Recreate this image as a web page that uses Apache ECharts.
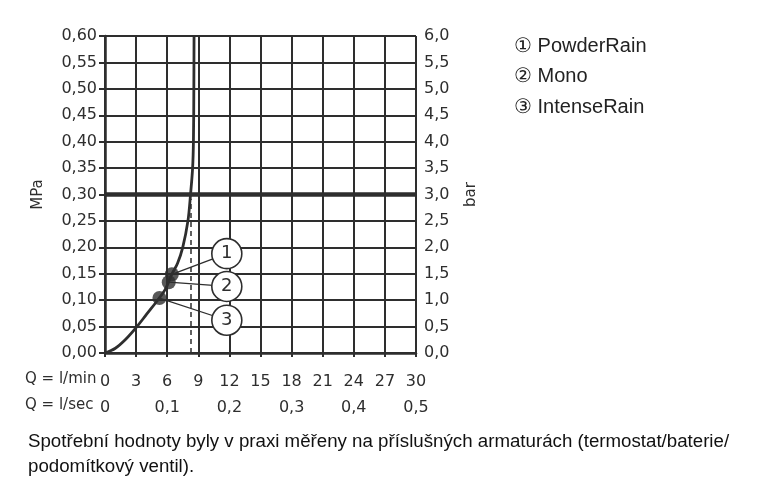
<!DOCTYPE html>
<html>
<head>
<meta charset="utf-8">
<script src="https://cdn.jsdelivr.net/npm/echarts@6/dist/echarts.min.js"></script>
<style>
  html, body { margin: 0; padding: 0; background: #fff; }
  #chart { width: 777px; height: 495px; }
</style>
</head>
<body>
<div id="chart"></div>
<script>
// průtoková křivka (Q v l/min, tlak v MPa)
const curveQ = [0, 1, 2, 3, 4, 5, 5.8, 6.45, 7, 7.5, 8.0, 8.25, 8.45, 8.53, 8.57, 8.59]
const curveP = [0, 0.009, 0.026, 0.048, 0.073, 0.098, 0.12, 0.149, 0.17, 0.2, 0.25, 0.3, 0.35, 0.4, 0.5, 0.6]
// body jednotlivých proudů: PowderRain, Mono, IntenseRain
const pointQ = [6.45, 6.15, 5.25]
const pointP = [0.149, 0.134, 0.104]
// kroužky s čísly
const badgeText = ['1', '2', '3']
const badgeQ = [11.75, 11.75, 11.75]
const badgeP = [0.188, 0.126, 0.062]
const legendText = ['① PowderRain', '② Mono', '③ IntenseRain']
const refPressure = 0.3
const limitQ = 8.23

const ink = '#2e2e2e'
const axisFont = 'DejaVu Sans'
const comma = v => v.toFixed(2).replace('.', ',')

const chart = echarts.init(document.getElementById('chart'))

const leaderSeries = pointQ.map((q, i) => ({
  type: 'line',
  silent: true,
  symbol: 'none',
  z: 3,
  lineStyle: { color: ink, width: 1.3 },
  data: [[q, pointP[i]], [badgeQ[i], badgeP[i]]]
}))

const option = {
  animation: false,
  grid: { left: 105, right: 361, top: 36, bottom: 142 },
  xAxis: [
    {
      type: 'value',
      min: 0,
      max: 30,
      interval: 3,
      axisLine: { show: true, onZero: false, lineStyle: { color: ink, width: 2.5 } },
      axisTick: { show: true, length: 4, lineStyle: { color: ink, width: 2 } },
      splitLine: { show: true, lineStyle: { color: ink, width: 2 } },
      axisLabel: { color: ink, fontFamily: axisFont, fontSize: 16, margin: 21 }
    },
    {
      type: 'value',
      position: 'bottom',
      offset: 26,
      min: 0,
      max: 30,
      interval: 6,
      axisLine: { show: false },
      axisTick: { show: false },
      splitLine: { show: false },
      axisLabel: {
        color: ink, fontFamily: axisFont, fontSize: 16, margin: 21,
        formatter: v => (v === 0 ? '0' : (v / 60).toFixed(1).replace('.', ','))
      }
    }
  ],
  yAxis: [
    {
      type: 'value',
      min: 0,
      max: 0.6,
      interval: 0.05,
      name: 'MPa',
      nameLocation: 'middle',
      nameGap: 59,
      nameRotate: 90,
      nameTextStyle: { color: ink, fontFamily: axisFont, fontSize: 15 },
      axisLine: { show: true, lineStyle: { color: ink, width: 2.5 } },
      axisTick: { show: true, length: 6, lineStyle: { color: ink, width: 2 } },
      splitLine: { show: true, lineStyle: { color: ink, width: 2 } },
      axisLabel: { color: ink, fontFamily: axisFont, fontSize: 16, margin: 8, formatter: comma }
    },
    {
      type: 'value',
      min: 0,
      max: 6,
      interval: 0.5,
      name: 'bar',
      nameLocation: 'middle',
      nameGap: 48,
      nameRotate: 90,
      nameTextStyle: { color: ink, fontFamily: axisFont, fontSize: 15 },
      axisLine: { show: true, lineStyle: { color: ink, width: 2 } },
      axisTick: { show: true, length: 6, lineStyle: { color: ink, width: 2 } },
      splitLine: { show: false },
      axisLabel: { color: ink, fontFamily: axisFont, fontSize: 16, margin: 8, formatter: v => v.toFixed(1).replace('.', ',') }
    }
  ],
  series: [
    {
      type: 'line',
      smooth: 0.35,
      symbol: 'none',
      z: 4,
      lineStyle: { color: ink, width: 2.8 },
      data: curveQ.map((q, i) => [q, curveP[i]]),
      markLine: {
        silent: true,
        symbol: 'none',
        label: { show: false },
        data: [
          { yAxis: refPressure, lineStyle: { color: ink, width: 4.5, type: 'solid' } },
          [
            { coord: [limitQ, 0], lineStyle: { color: ink, width: 1.5, type: [5, 4] } },
            { coord: [limitQ, refPressure - 0.008] }
          ]
        ]
      }
    },
    ...leaderSeries,
    {
      type: 'scatter',
      z: 5,
      symbolSize: 14,
      itemStyle: { color: ink },
      data: pointQ.map((q, i) => [q, pointP[i]])
    },
    {
      type: 'scatter',
      z: 6,
      symbolSize: 30,
      itemStyle: { color: '#fff', borderColor: ink, borderWidth: 1.6, opacity: 1 },
      label: {
        show: true,
        position: 'inside',
        color: ink,
        fontFamily: axisFont,
        fontSize: 18,
        formatter: p => badgeText[p.dataIndex]
      },
      data: badgeQ.map((q, i) => [q, badgeP[i]])
    }
  ],
  graphic: [
    { type: 'text', left: 25, top: 372, style: { text: 'Q = l/min', fill: ink, font: '15px "DejaVu Sans"' } },
    { type: 'text', left: 25, top: 398, style: { text: 'Q = l/sec', fill: ink, font: '15px "DejaVu Sans"' } },
    ...legendText.map((t, i) => ({
      type: 'text', left: 514, top: 36 + i * 30.5,
      style: { text: t, fill: '#222', font: '20px "Liberation Sans", Arial, sans-serif' }
    })),
    {
      type: 'text', left: 28, top: 429,
      style: {
        text: 'Spotřební hodnoty byly v praxi měřeny na příslušných armaturách (termostat/baterie/\npodomítkový ventil).',
        fill: '#111',
        font: '18.7px "Liberation Sans", Arial, sans-serif',
        lineHeight: 25
      }
    }
  ]
}

chart.setOption(option)
</script>
</body>
</html>
